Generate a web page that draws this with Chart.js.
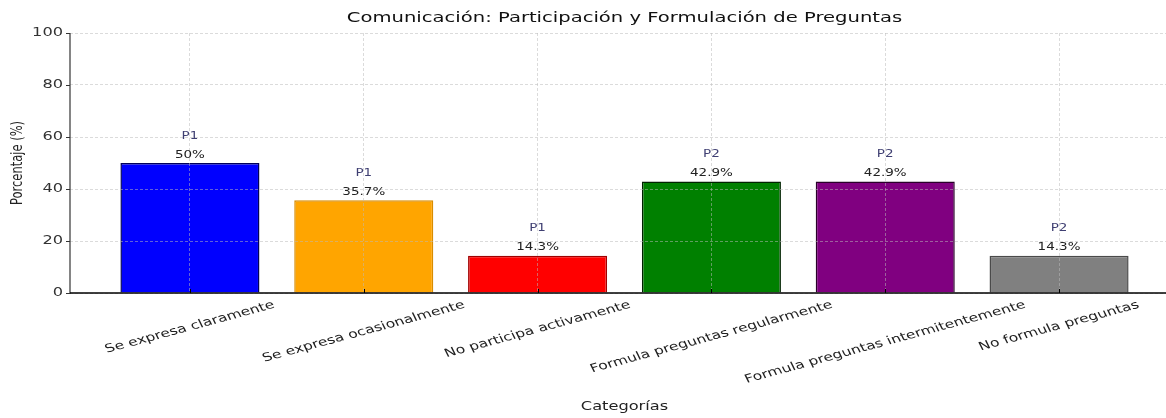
<!DOCTYPE html>
<html>
<head>
<meta charset="utf-8">
<script src="https://cdn.jsdelivr.net/npm/chart.js@4.4.1/dist/chart.umd.min.js"></script>
<style>
  html, body { margin: 0; padding: 0; background: #fff; overflow: hidden; }
  #wrap { width: 1182px; height: 418px; }
</style>
</head>
<body>
<div id="wrap"><canvas id="myChart" width="1182" height="418"></canvas></div>
<script>
const categories = ["Se expresa claramente", "Se expresa ocasionalmente", "No participa activamente",
  "Formula preguntas regularmente", "Formula preguntas intermitentemente", "No formula preguntas"];
const percentages = [50, 35.7, 14.3, 42.9, 42.9, 14.3];
const groups = ["P1", "P1", "P1", "P2", "P2", "P2"];
const barColors = ["#0000ff", "#ffa500", "#ff0000", "#008000", "#800080", "#808080"];
const edgeColors = ["#00005a", "#d98c00", "#a00000", "#002200", "#2a002a", "#4a4a4a"];
const yTicks = [0, 20, 40, 60, 80, 100];
const chartTitle = "Comunicación: Participación y Formulación de Preguntas";
const xTitle = "Categorías";
const yTitle = "Porcentaje (%)";

// the source picture is stretched sideways, so text gets the same stretch
const SX = 1.35;
const FONT = "'DejaVu Sans', sans-serif";

function drawText(ctx, text, x, y, o) {
  ctx.save();
  ctx.translate(x, y);
  ctx.scale(SX, 1);
  if (o.angle) ctx.rotate(o.angle * Math.PI / 180);
  ctx.font = o.font;
  ctx.fillStyle = o.color || "#222";
  ctx.textAlign = o.align || "center";
  ctx.textBaseline = "middle";
  ctx.fillText(text, 0, 0);
  ctx.restore();
}

function line(ctx, x1, y1, x2, y2, color, w) {
  ctx.save();
  ctx.strokeStyle = color;
  ctx.lineWidth = w;
  ctx.beginPath();
  ctx.moveTo(x1, y1);
  ctx.lineTo(x2, y2);
  ctx.stroke();
  ctx.restore();
}

const textPlugin = {
  id: "textPlugin",
  afterDraw(chart) {
    const ctx = chart.ctx;
    const area = chart.chartArea;
    const xs = chart.scales.x, ys = chart.scales.y;
    const cx = (area.left + area.right) / 2;

    drawText(ctx, chartTitle, cx, 18, { font: "14.5px " + FONT, color: "#111" });
    drawText(ctx, xTitle, cx, 407, { font: "12px " + FONT, color: "#222" });
    drawText(ctx, yTitle, 18, (area.top + area.bottom) / 2, { font: "11.5px " + FONT, color: "#222", angle: -90 });

    // spines and y ticks
    line(ctx, area.left, area.top, area.left, area.bottom + 0.7, "#333", 1.2);
    line(ctx, area.left, area.bottom, area.right, area.bottom, "#000", 1.4);
    yTicks.forEach(v => {
      const y = Math.round(ys.getPixelForValue(v)) + 0.5;
      line(ctx, area.left - 4, y, area.left, y, "#333", 1);
      drawText(ctx, String(v), area.left - 7, ys.getPixelForValue(v), { font: "12px " + FONT, color: "#333", align: "right" });
    });

    ctx.save();
    ctx.font = "11.5px " + FONT;
    const rad = 20 * Math.PI / 180;
    categories.forEach((c, i) => {
      const x = xs.getPixelForValue(i);
      const L = ctx.measureText(c).width;
      const H = L * Math.sin(rad) + 12 * Math.cos(rad);
      drawText(ctx, c, x, area.bottom + 6 + H / 2, { font: "11.5px " + FONT, color: "#222", angle: -20 });
      line(ctx, Math.round(x) + 0.5, area.bottom, Math.round(x) + 0.5, area.bottom - 4, "#000", 1);
    });
    ctx.restore();

    const meta = chart.getDatasetMeta(0);
    meta.data.forEach((bar, i) => {
      drawText(ctx, percentages[i] + "%", bar.x, bar.y - 8, { font: "10px " + FONT, color: "#222" });
      drawText(ctx, groups[i], bar.x, bar.y - 27, { font: "10px " + FONT, color: "#3f3f72" });
    });
  }
};

const n = categories.length;
const pad = 0.05 * (n - 1 + 0.8);

const data = {
  datasets: [{
    label: "Porcentaje",
    data: percentages.map((v, i) => ({ x: i, y: v })),
    backgroundColor: barColors,
    borderColor: edgeColors,
    borderWidth: 1.5,
    barPercentage: 0.8,
    categoryPercentage: 1
  }]
};

const grid = {
  z: 1,
  offset: false,
  color: "rgba(185,185,185,0.65)",
  lineWidth: 0.8,
  drawTicks: false
};

new Chart(document.getElementById("myChart").getContext("2d"), {
  type: "bar",
  data: data,
  plugins: [textPlugin],
  options: {
    responsive: false,
    animation: false,
    layout: { padding: { top: 33, right: 3, left: 0, bottom: 0 } },
    plugins: { legend: { display: false }, title: { display: false }, tooltip: { enabled: false } },
    scales: {
      x: {
        type: "linear",
        offset: false,
        min: -0.4 - pad,
        max: n - 1 + 0.4 + pad,
        afterBuildTicks: (s) => { s.ticks = categories.map((c, i) => ({ value: i })); },
        afterFit: (s) => { s.height = 125; },
        ticks: { display: false },
        grid: grid,
        border: { display: false, dash: [3, 2] }
      },
      y: {
        min: 0,
        max: 100,
        afterBuildTicks: (s) => { s.ticks = yTicks.map(v => ({ value: v })); },
        afterFit: (s) => { s.width = 70; },
        ticks: { display: false },
        grid: grid,
        border: { display: false, dash: [3, 2] }
      }
    }
  }
});
</script>
</body>
</html>
